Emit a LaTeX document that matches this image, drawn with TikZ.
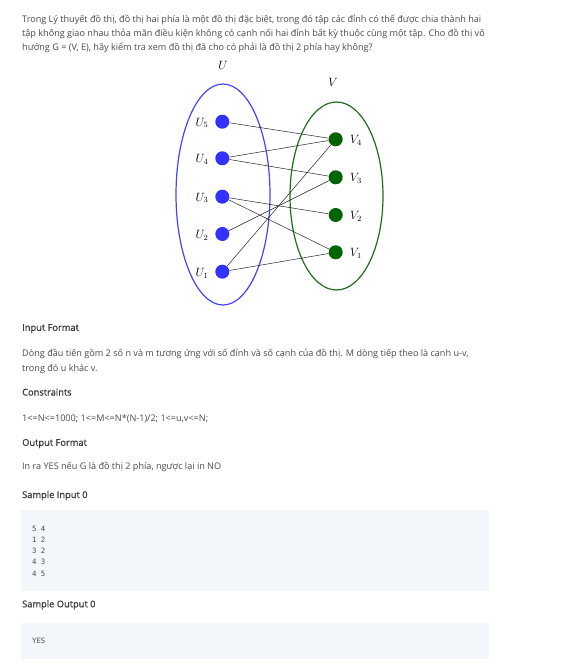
\documentclass[tikz,border=0pt]{standalone}
\usepackage{fontspec}
\setmainfont{Open Sans}
\setmonofont{DejaVu Sans Mono}
\newfontfamily\semib{Open Sans}[FakeBold=0.9]
\usetikzlibrary{shapes.geometric}
\definecolor{textgray}{HTML}{4A4A4A}
\definecolor{headgray}{HTML}{3A3A3A}
\definecolor{codebg}{HTML}{F3F7FC}
\definecolor{ublue}{HTML}{3333FF}
\definecolor{uline}{HTML}{4545FF}
\definecolor{vgreen}{HTML}{006400}
\definecolor{vline}{HTML}{1E6E1E}
\begin{document}
\begin{tikzpicture}[x=1pt,y=-1pt,
  txt/.style={anchor=base west, inner sep=0pt, text=textgray, font=\fontsize{9.1}{10}\selectfont},
  head/.style={anchor=base west, inner sep=0pt, text=headgray, font=\fontsize{9.3}{10}\semib},
  code/.style={anchor=base west, inner sep=0pt, text=textgray, font=\fontsize{7.3}{9}\ttfamily},
  codebox/.style={fill=codebg, draw=none, anchor=north west, inner sep=0pt},
  unode/.style={circle, fill=ublue, draw=none, minimum size=14pt, inner sep=0pt},
  vnode/.style={circle, fill=vgreen, draw=none, minimum size=14pt, inner sep=0pt},
  mlab/.style={inner sep=0pt, font=\fontsize{11.5}{13}\selectfont},
  edge/.style={draw=black!85, line width=0.5pt}]
\useasboundingbox (0,0) rectangle (573,668);
\fill[white] (0,0) rectangle (573,668);

% intro paragraph
\node[txt] (p1) at (22,23) {Trong Lý thuyết đồ thị, đồ thị hai phía là một đồ thị đặc biệt, trong đó tập các đỉnh có thể được chia thành hai};
\node[txt] (p2) at (22,36.5) {tập không giao nhau thỏa mãn điều kiện không có cạnh nối hai đỉnh bất kỳ thuộc cùng một tập. Cho đồ thị vô};
\node[txt] (p3) at (22,50.5) {hướng G = (V, E), hãy kiểm tra xem đồ thị đã cho có phải là đồ thị 2 phía hay không?};

% graph
\node[draw=uline, line width=1.2pt, ellipse, minimum width=94pt, minimum height=221pt, inner sep=0pt] (Uset) at (223,194.5) {};
\node[draw=vline, line width=1.2pt, ellipse, minimum width=93pt, minimum height=188pt, inner sep=0pt] (Vset) at (336.5,196) {};
\node[mlab] (Ulab) at (223,65) {$U$};
\node[mlab] (Vlab) at (333,82.5) {$V$};

\node[unode] (u5) at (222.3,121.7) {};
\node[unode] (u4) at (222.3,158.3) {};
\node[unode] (u3) at (222.3,196.7) {};
\node[unode] (u2) at (222.3,234) {};
\node[unode] (u1) at (222.3,271.7) {};
\node[vnode] (v4) at (335.7,139.3) {};
\node[vnode] (v3) at (335.7,177.3) {};
\node[vnode] (v2) at (335.7,215) {};
\node[vnode] (v1) at (335.7,252.3) {};

\node[mlab] (lu5) at (202,123) {$U_5$};
\node[mlab] (lu4) at (202,159.6) {$U_4$};
\node[mlab] (lu3) at (202,198) {$U_3$};
\node[mlab] (lu2) at (202,235.3) {$U_2$};
\node[mlab] (lu1) at (202,273) {$U_1$};
\node[mlab] (lv4) at (356,140.6) {$V_4$};
\node[mlab] (lv3) at (356,178.6) {$V_3$};
\node[mlab] (lv2) at (356,216.3) {$V_2$};
\node[mlab] (lv1) at (356,253.6) {$V_1$};

\draw[edge] (u5) -- (v4);
\draw[edge] (u4) -- (v4);
\draw[edge] (u4) -- (v3);
\draw[edge] (u3) -- (v2);
\draw[edge] (u3) -- (v1);
\draw[edge] (u2) -- (v3);
\draw[edge] (u1) -- (v4);
\draw[edge] (u1) -- (v1);

% sections
\node[head] (h1) at (22,330.8) {Input Format};
\node[txt] (i1) at (22,356.5) {Dòng đầu tiên gồm 2 số n và m tương ứng với số đỉnh và số cạnh của đồ thị. M dòng tiếp theo là cạnh u-v,};
\node[txt] (i2) at (22,371.5) {trong đó u khác v.};
\node[head] (h2) at (22,395.5) {Constraints};
\node[txt] (c1) at (22,421.5) {1<=N<=1000; 1<=M<=N*(N-1)/2; 1<=u,v<=N;};
\node[head] (h3) at (22,445.8) {Output Format};
\node[txt] (o1) at (22,469.8) {In ra YES nếu G là đồ thị 2 phía, ngược lại in NO};
\node[head] (h4) at (22,498) {Sample Input 0};

\node[codebox, minimum width=468pt, minimum height=80.7pt] (inbox) at (20.7,510) {};
\node[code] (l1) at (32,531) {5 4};
\node[code] (l2) at (32,542.3) {1 2};
\node[code] (l3) at (32,553.6) {3 2};
\node[code] (l4) at (32,564.9) {4 3};
\node[code] (l5) at (32,576.2) {4 5};

\node[head] (h5) at (22,607.3) {Sample Output 0};
\node[codebox, minimum width=468pt, minimum height=35.6pt] (outbox) at (20.7,622.7) {};
\node[code] (y1) at (32,643.7) {YES};
\end{tikzpicture}
\end{document}
